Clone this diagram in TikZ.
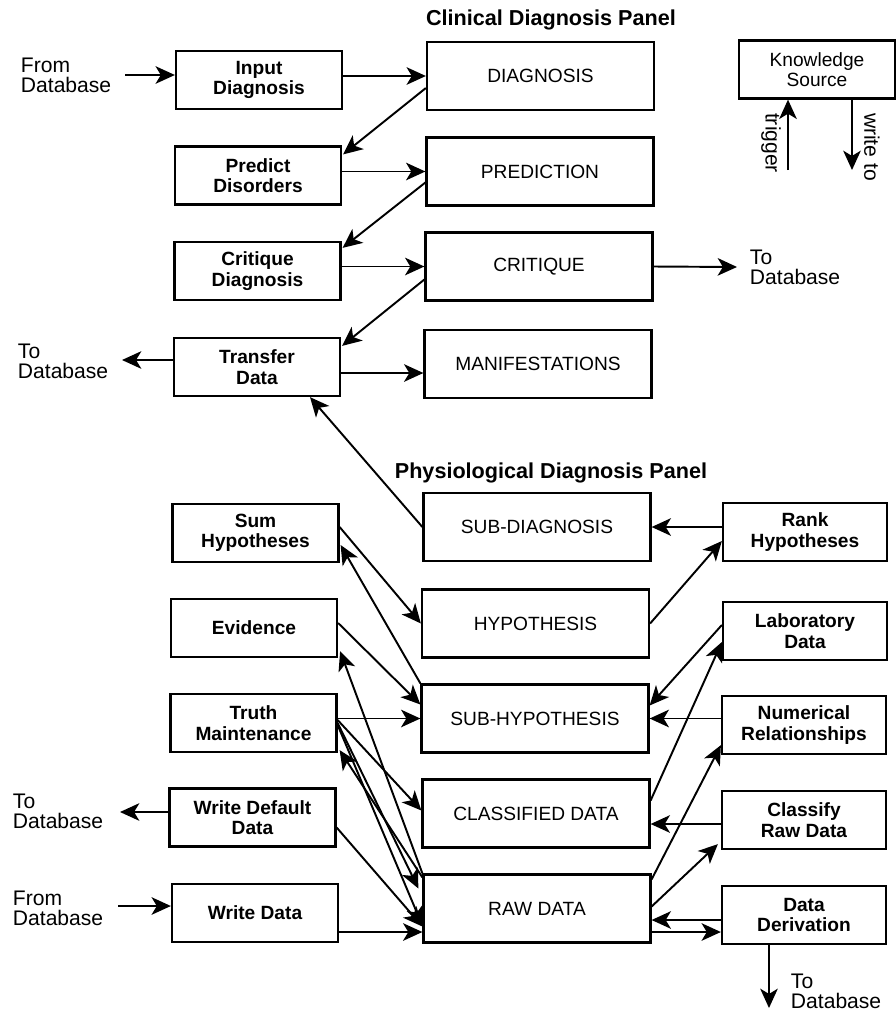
\documentclass[tikz,border=0pt]{standalone}
\usepackage{fontspec}
\setmainfont{Liberation Sans}
\usetikzlibrary{arrows.meta,calc}

\begin{document}
\begin{tikzpicture}[x=0.02cm,y=-0.02cm,line width=1.1pt,>={Stealth[length=11pt,width=10pt,inset=3pt]},
	lbox/.style={draw,line width=1.3pt,minimum width=3.32cm,minimum height=1.16cm,align=center,inner sep=1pt,font=\fontsize{10.9}{11.6}\selectfont\bfseries},
	cbox/.style={draw,line width=1.3pt,minimum width=4.54cm,minimum height=1.36cm,inner sep=1pt,font=\fontsize{10.9}{11.6}\selectfont},
	rbox/.style={lbox,minimum width=3.28cm},
	dblabel/.style={anchor=west,align=left,inner sep=0pt,font=\fontsize{12}{11.4}\selectfont},
	panel/.style={font=\fontsize{12.3}{14}\selectfont\bfseries}]
	\useasboundingbox (0,0) rectangle (896,1015);

		\node[panel] (clinical) at (551,20) {Clinical Diagnosis Panel};
		\node[panel] (physio) at (551,473) {Physiological Diagnosis Panel};

		\node[lbox] (inpdiag) at (259,80) {Input\\Diagnosis};
		\node[lbox] (predict) at (258,175.5) {Predict\\Disorders};
		\node[lbox] (critique) at (257.5,271) {Critique\\Diagnosis};
		\node[lbox] (transfer) at (257,367) {Transfer\\Data};
		\node[lbox] (sumhyp) at (255.5,533) {Sum\\Hypotheses};
		\node[lbox] (evidence) at (254,628) {Evidence};
		\node[lbox] (truth) at (253.5,723) {Truth\\Maintenance};
		\node[lbox] (wdefault) at (252.5,817.5) {Write Default\\Data};
		\node[lbox] (wdata) at (255,913) {Write Data};

		\node[cbox] (diagbox) at (540.5,76) {DIAGNOSIS};
		\node[cbox] (predbox) at (540,171.5) {PREDICTION};
		\node[cbox] (critbox) at (539,266.5) {CRITIQUE};
		\node[cbox] (manifest) at (538,364) {MANIFESTATIONS};
		\node[cbox] (subdiag) at (537,527) {SUB-DIAGNOSIS};
		\node[cbox] (hypo) at (535.5,623.5) {HYPOTHESIS};
		\node[cbox] (subhyp) at (535,718.5) {SUB-HYPOTHESIS};
		\node[cbox] (classified) at (536,813.5) {CLASSIFIED DATA};
		\node[cbox] (raw) at (537,908.5) {RAW DATA};

		\node[draw,line width=1.3pt,minimum width=3.12cm,minimum height=1.16cm,align=center,inner sep=1pt,font=\fontsize{10.9}{11.6}\selectfont] (ksource) at (817,69.5) {Knowledge\\Source};
		\node[rbox] (rankhyp) at (805,532) {Rank\\Hypotheses};
		\node[rbox] (labdata) at (805,631) {Laboratory\\Data};
		\node[rbox] (numrel) at (804,725) {Numerical\\Relationships};
		\node[rbox] (classify) at (804,820) {Classify\\Raw Data};
		\node[rbox] (derive) at (804,915) {Data\\Derivation};

		\node[dblabel] (fromdb1) at (20,75) {From\\Database};
		\node[dblabel] (todb1) at (749,267) {To\\Database};
		\node[dblabel] (todb2) at (17,361) {To\\Database};
		\node[dblabel] (todb3) at (12,811) {To\\Database};
		\node[dblabel] (fromdb2) at (12,908) {From\\Database};
		\node[dblabel] (todb4) at (790,991) {To\\Database};
		\node[rotate=-90,font=\fontsize{12}{14}\selectfont] (trglabel) at (771,143) {trigger};
		\node[rotate=-90,font=\fontsize{12}{14}\selectfont] (wrtlabel) at (872,147) {write to};

		\coordinate (fd1) at (125,75);
		\coordinate (td1) at (737,267);
		\coordinate (td2) at (122,360);
		\coordinate (td3) at (120,812);
		\coordinate (fd2) at (118,906);
		\coordinate (td4) at (769,1008);
		\coordinate (trg) at (788,170);
		\coordinate (wrt) at (852,170);

		\draw[->] (trg) -- (trg |- ksource.south);
		\draw[->] (wrt |- ksource.south) -- (wrt);

		\draw[->] (fd1) -- (fd1 -| inpdiag.west);
		\draw[->] (inpdiag.east |- diagbox.west) -- (diagbox.west);
		\draw[->] ($(diagbox.west)+(0,12)$) -- ($(predict.north east)+(1,9)$);
		\draw[->] (predict.east |- predbox.west) -- (predbox.west);
		\draw[->] ($(predbox.west)+(0,11)$) -- ($(critique.north east)+(1,7)$);
		\draw[->] (critique.east |- critbox.west) -- (critbox.west);
		\draw[->] (critbox.east) -- (td1);
		\draw[->] ($(critbox.west)+(0,13)$) -- ($(transfer.north east)+(1,9)$);
		\draw[->] (td2 -| transfer.west) -- (td2);
		\draw[->] ($(transfer.east)+(0,6)$) -- ($(manifest.west |- transfer.east)+(0,6)$);
		\draw[->] (subdiag.west) -- ($(transfer.south)+(53,0)$);

		\draw[->] (rankhyp.west |- subdiag.east) -- (subdiag.east);
		\draw[->] (hypo.east) -- ($(rankhyp.west)+(0,9)$);
		\draw[->] ($(sumhyp.east)+(0,-6)$) -- (hypo.west);
		\draw[->] (subhyp.north west) -- ($(sumhyp.east)+(1,12)$);
		\draw[->] ($(evidence.east)+(0,-5)$) -- ($(subhyp.west)+(0,-14)$);
		\draw[->] (truth.east |- subhyp.west) -- (subhyp.west);
		\draw[->] (raw.north west) -- ($(evidence.south east)+(2,-7)$);
		\draw[->] ($(raw.north west)+(0,4)$) -- ($(truth.south east)+(2,-3)$);
		\draw[->] ($(truth.east)+(0,-3)$) -- ($(classified.west)+(0,-3)$);
		\draw[->] (truth.east) -- ($(raw.west)+(-4,-20)$);
		\draw[->] ($(truth.east)+(0,2)$) -- ($(raw.west)+(0,17)$);
		\draw[->] ($(wdefault.east)+(0,10)$) -- ($(raw.west)+(0,18)$);
		\draw[->] ($(wdata.east)+(0,19)$) -- ($(raw.west |- wdata.east)+(0,19)$);
		\draw[->] (fd2) -- (fd2 -| wdata.west);
		\draw[->] (td3 -| wdefault.west) -- (td3);

		\draw[->] ($(labdata.west)+(0,-6)$) -- ($(subhyp.east)+(0,-13)$);
		\draw[->] (numrel.west |- subhyp.east) -- (subhyp.east);
		\draw[->] ($(classified.east)+(0,-13)$) -- ($(labdata.west)+(0,11)$);
		\draw[->] ($(raw.north east)+(0,6)$) -- ($(numrel.south west)+(0,-10)$);
		\draw[->] ($(classify.west)+(0,4)$) -- ($(classified.east |- classify.west)+(0,4)$);
		\draw[->] ($(raw.east)+(0,-2)$) -- ($(classify.south west)+(-3,-6)$);
		\draw[->] ($(derive.west)+(0,5)$) -- ($(raw.east |- derive.west)+(0,5)$);
		\draw[->] ($(raw.east |- derive.west)+(0,17)$) -- ($(derive.west)+(0,17)$);
		\draw[->] ($(derive.south)+(-35,0)$) -- (td4);
\end{tikzpicture}
\end{document}
